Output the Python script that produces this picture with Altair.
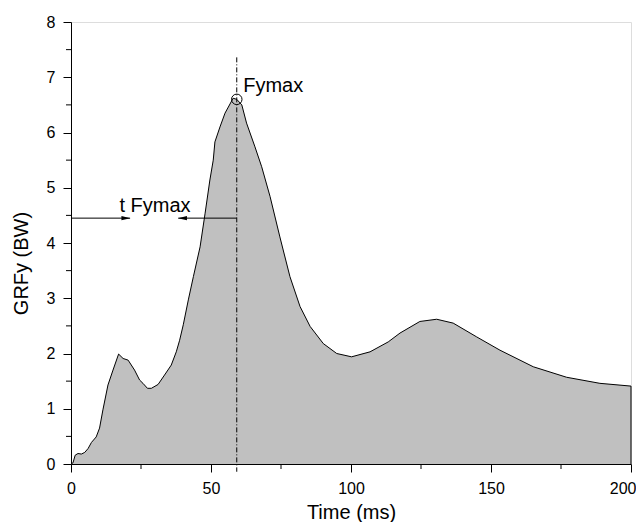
import altair as alt
import pandas as pd

# Curve: GRFy (BW) vs time (ms)
time_ms = [0, 0.7, 1.5, 2.5, 3.7, 4.9, 6.1, 7.3, 9.0, 10.2, 11.4, 13.2, 15.0, 17.0, 18.6,
           20.4, 22.7, 24.5, 25.7, 27.3, 28.7, 31.1, 33.4, 35.8, 37.6, 38.8, 40.1, 41.9,
           43.7, 46.1, 47.9, 49.6, 50.8, 51.4, 53.2, 55.0, 57.9, 59.2, 61.0, 62.7, 65.7,
           68.1, 71.1, 74.6, 78.2, 81.8, 85.4, 90.1, 94.9, 100.2, 106.8, 113.3, 117.5,
           124.6, 130.6, 136.5, 144.9, 153.2, 165.1, 177.0, 188.9, 200]
grfy = [0, 0.02, 0.16, 0.19, 0.18, 0.21, 0.28, 0.39, 0.49, 0.65, 0.98, 1.43, 1.70, 1.99,
        1.91, 1.88, 1.70, 1.52, 1.46, 1.37, 1.37, 1.44, 1.61, 1.79, 2.03, 2.24, 2.52, 2.97,
        3.39, 3.93, 4.54, 5.14, 5.5, 5.83, 6.1, 6.35, 6.62, 6.6, 6.5, 6.17, 5.74, 5.38,
        4.84, 4.11, 3.39, 2.85, 2.49, 2.18, 2.0, 1.94, 2.03, 2.21, 2.37, 2.58, 2.62, 2.55,
        2.30, 2.06, 1.76, 1.57, 1.46, 1.41]

# Annotations
peak_t = [59.2]
peak_y = [6.6]
vline_top = [7.36]
vline_bottom = [-0.14]
arrow_y = [4.45]
arrow_left_line = [0, 21.1]       # from axis to right-pointing head
arrow_right_line = [59.2, 38.3]   # from vline to left-pointing head
head_right_t = [19.6]
head_left_t = [39.8]
label_texts = ["Fymax", "t Fymax"]
label_t = [61.5, 17.3]
label_y = [6.74, 4.57]

x_ticks = [0, 50, 100, 150, 200]
x_minor = [25, 75, 125, 175]
y_ticks = [0, 1, 2, 3, 4, 5, 6, 7, 8]
y_minor = [0.5, 1.5, 2.5, 3.5, 4.5, 5.5, 6.5, 7.5]

FONT = "Liberation Sans"

curve = pd.DataFrame({"t": time_ms, "y": grfy})

xs = alt.Scale(domain=[0, 200], nice=False, zero=False)
ys = alt.Scale(domain=[0, 8], nice=False, zero=False)

x_axis = alt.Axis(values=x_ticks, format="d", title="Time (ms)", tickSize=8, labelPadding=8,
                  labelFontSize=16, titleFontSize=20, labelFont=FONT, titleFont=FONT,
                  labelAlign=alt.ExprRef(expr="datum.value == 200 ? 'right' : 'center'"),
                  labelOffset=alt.ExprRef(expr="datum.value == 200 ? 5 : 0"),
                  titleFontWeight="normal", titleY=54, titleBaseline="alphabetic",
                  domainColor="black", tickColor="black", labelColor="black",
                  titleColor="black", grid=False, labelFlush=False)
y_axis = alt.Axis(values=y_ticks, format="d", title="GRFy (BW)", tickSize=8, labelPadding=8,
                  labelFontSize=16, titleFontSize=20, labelFont=FONT, titleFont=FONT,
                  titleFontWeight="normal", titleX=-44, titleY=241, titleAngle=270,
                  titleAlign="center", titleBaseline="alphabetic",
                  domainColor="black", tickColor="black", labelColor="black",
                  titleColor="black", grid=False, labelFlush=False)

area = alt.Chart(curve).mark_area(color="#c0c0c0", opacity=1, interpolate="linear").encode(
    x=alt.X("t:Q", scale=xs, axis=x_axis),
    y=alt.Y("y:Q", scale=ys, axis=y_axis),
)
line = alt.Chart(curve).mark_line(color="black", strokeWidth=1).encode(
    x=alt.X("t:Q", scale=xs), y=alt.Y("y:Q", scale=ys))

end_edge = alt.Chart(pd.DataFrame({"t": [time_ms[-1]], "y": [grfy[-1]], "y0": [0]})).mark_rule(
    color="black", strokeWidth=1).encode(
    x=alt.X("t:Q", scale=xs), y=alt.Y("y:Q", scale=ys), y2="y0:Q")

xminor = alt.Chart(pd.DataFrame({"t": x_minor})).mark_rule(color="black").encode(
    x=alt.X("t:Q", scale=xs), y=alt.value(442), y2=alt.value(447))
yminor = alt.Chart(pd.DataFrame({"y": y_minor})).mark_rule(color="black").encode(
    y=alt.Y("y:Q", scale=ys), x=alt.value(0), x2=alt.value(-5))

vline = alt.Chart(pd.DataFrame({"t": peak_t, "top": vline_top, "bot": vline_bottom})).mark_rule(
    color="black", strokeWidth=1, strokeDash=[5, 2, 1, 2]).encode(
    x=alt.X("t:Q", scale=xs), y=alt.Y("top:Q", scale=ys), y2="bot:Q")

arrows = alt.Chart(pd.DataFrame({
    "a": [arrow_left_line[0], arrow_right_line[0]],
    "b": [arrow_left_line[1], arrow_right_line[1]],
    "y": arrow_y * 2})).mark_rule(color="black", strokeWidth=1).encode(
    x=alt.X("a:Q", scale=xs), x2="b:Q", y=alt.Y("y:Q", scale=ys))

head_r = alt.Chart(pd.DataFrame({"t": head_right_t, "y": arrow_y})).mark_point(
    shape="M -1 -0.5 L 1 0 L -1 0.5 Z", size=80, filled=True, color="black", opacity=1).encode(
    x=alt.X("t:Q", scale=xs), y=alt.Y("y:Q", scale=ys))
head_l = alt.Chart(pd.DataFrame({"t": head_left_t, "y": arrow_y})).mark_point(
    shape="M 1 -0.5 L -1 0 L 1 0.5 Z", size=80, filled=True, color="black", opacity=1).encode(
    x=alt.X("t:Q", scale=xs), y=alt.Y("y:Q", scale=ys))

circle = alt.Chart(pd.DataFrame({"t": peak_t, "y": peak_y})).mark_point(
    shape="circle", size=110, filled=False, color="black", strokeWidth=1, opacity=1).encode(
    x=alt.X("t:Q", scale=xs), y=alt.Y("y:Q", scale=ys))

labels = alt.Chart(pd.DataFrame({"t": label_t, "y": label_y, "txt": label_texts})).mark_text(
    align="left", baseline="alphabetic", font=FONT, fontSize=20, color="black").encode(
    x=alt.X("t:Q", scale=xs), y=alt.Y("y:Q", scale=ys), text="txt:N")

chart = alt.layer(area, line, end_edge, xminor, yminor, vline, arrows, head_r, head_l,
                  circle, labels).properties(
    width=560, height=442,
    autosize=alt.AutoSizeParams(type="none"),
    padding={"left": 63, "top": 14, "right": 5, "bottom": 58},
).configure_view(stroke=None).configure(background="white")

chart.save("out.html", embed_options={"renderer": "svg", "actions": False})
